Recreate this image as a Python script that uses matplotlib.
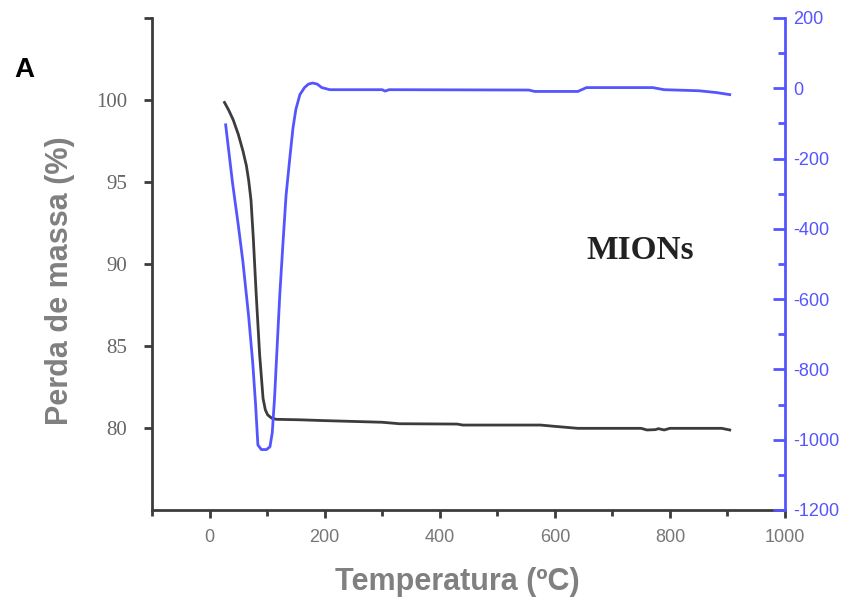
"""
TGA / DTG curve of MIONs
"""

import numpy as np
import matplotlib
matplotlib.use('Agg')
import matplotlib.pyplot as plt
from matplotlib.ticker import MultipleLocator

plt.rcParams['axes.unicode_minus'] = False

# mass loss curve (left axis)
temp_mass = [26, 33, 41, 50, 58, 64, 68, 72, 76, 81, 87, 93, 97, 101, 108, 116, 157,
             200, 250, 300, 330, 430, 440, 575, 600, 640, 750, 760, 775, 780, 790,
             800, 890, 904]
mass = [99.85, 99.4, 98.8, 97.9, 96.9, 96.0, 95.1, 93.9, 91.6, 88.2, 84.5, 81.8,
        81.1, 80.8, 80.6, 80.53, 80.5, 80.45, 80.4, 80.35, 80.26, 80.24, 80.18, 80.18,
        80.1, 79.98, 79.98, 79.88, 79.9, 79.96, 79.88, 79.98, 79.98, 79.88]

# derivative curve (right axis)
temp_dtg = [28, 40, 50, 58, 68, 75, 80, 84, 90, 99, 105, 109, 113, 117, 122, 128,
            133, 140, 145, 150, 157, 165, 172, 179, 187, 195, 209, 300, 305, 312,
            555, 565, 640, 655, 770, 790, 850, 880, 904]
dtg = [-104, -270, -390, -494, -650, -780, -900, -1015, -1028, -1028, -1020, -980,
       -880, -750, -589, -430, -304, -190, -113, -60, -18, 2, 12, 15, 12, 2, -4,
       -4, -8, -4, -5, -9, -9, 2, 2, -4, -7, -12, -18]

grey = '#808080'
blue = '#5555ff'
dark = '#3c3c3c'

fig = plt.figure(figsize=(8.45, 6.05), dpi=100)
ax = fig.add_axes([152/845, 1 - 510/605, (785 - 152)/845, (510 - 18)/605])
ax2 = ax.twinx()

ax.plot(temp_mass, mass, color=dark, lw=2)
ax2.plot(temp_dtg, dtg, color=blue, lw=2)

ax.set_xlim(-100, 1000)
ax.set_ylim(75, 105)
ax2.set_ylim(-1200, 200)

ax.set_xticks([0, 200, 400, 600, 800, 1000])
ax.xaxis.set_minor_locator(MultipleLocator(100))
ax.set_yticks([80, 85, 90, 95, 100, 105])
ax.set_yticklabels(['80', '85', '90', '95', '100', ''])
ax2.set_yticks(np.arange(-1200, 201, 200))
ax2.yaxis.set_minor_locator(MultipleLocator(100))

ax.spines['top'].set_visible(False)
ax2.spines['top'].set_visible(False)
ax.spines['right'].set_visible(False)
ax2.spines['left'].set_visible(False)
ax2.spines['bottom'].set_visible(False)
ax.spines['left'].set_color(dark)
ax.spines['left'].set_linewidth(2)
ax.spines['bottom'].set_color(dark)
ax.spines['bottom'].set_linewidth(2)
ax2.spines['right'].set_color(blue)
ax2.spines['right'].set_linewidth(2)

ax.tick_params(axis='x', which='major', direction='out', length=6, width=2,
               color=dark, labelsize=13, labelcolor='#777777', pad=8)
ax.tick_params(axis='x', which='minor', direction='out', length=4, width=2, color=dark)
ax.tick_params(axis='y', which='major', direction='out', length=6, width=2,
               color=dark, labelsize=15, labelcolor='#666666', pad=12)
for t in ax.get_yticklabels():
    t.set_family('Liberation Serif')
for t in ax.get_xticklabels():
    t.set_family('Liberation Sans')
ax2.tick_params(axis='y', which='major', direction='in', length=9, width=2,
                color=blue, labelsize=13, labelcolor=blue, pad=6)
ax2.tick_params(axis='y', which='minor', direction='in', length=5, width=2, color=blue)
for t in ax2.get_yticklabels():
    t.set_family('Liberation Sans')

ax.set_xlabel('Temperatura (ºC)', fontsize=22, fontweight='bold', color=grey,
              family='Liberation Sans')
ax.xaxis.set_label_coords(0.483, -0.115)
ax.set_ylabel('Perda de massa (%)', fontsize=22, fontweight='bold', color=grey,
              family='Liberation Sans')
ax.yaxis.set_label_coords(-0.122, 0.467)

ax.text(748, 90.8, 'MIONs', fontsize=24, fontweight='bold', family='Liberation Serif',
        color='#222222', ha='center', va='center')
fig.text(14/845, 1 - 70/605, 'A', fontsize=20, fontweight='bold',
         family='Liberation Sans', color='black', va='center')

plt.savefig('out.png', format='png')
